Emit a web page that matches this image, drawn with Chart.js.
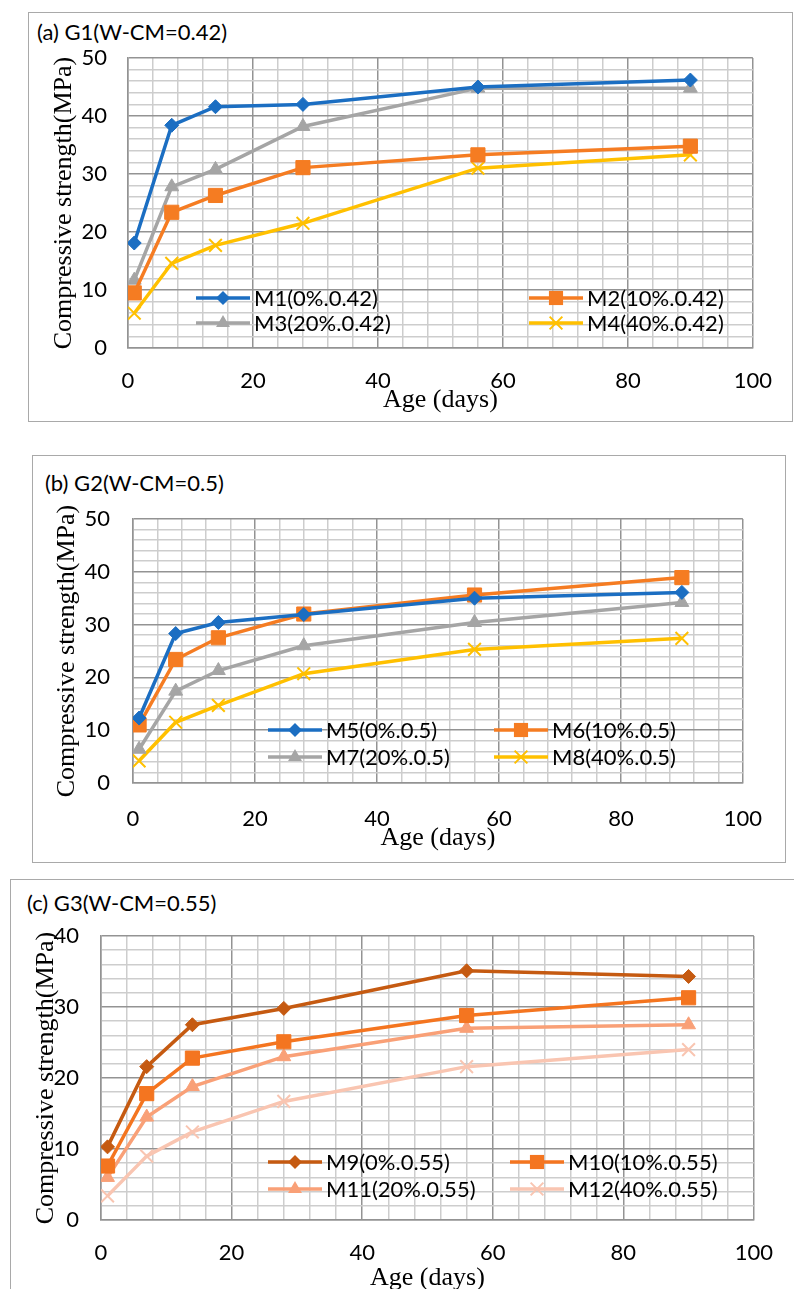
<!DOCTYPE html>
<html>
<head>
<meta charset="utf-8">
<script src="https://cdn.jsdelivr.net/npm/chart.js"></script>
<style>
  html, body { margin: 0; padding: 0; background: #fff; overflow: hidden; width: 794px; height: 1289px; }
  .frame { position: absolute; border: 1.5px solid #a9a9a9; box-sizing: border-box; }
  canvas { position: absolute; }
  .ttl { position: absolute; font-family: Lato, sans-serif; font-size: 22px; line-height: 24px; color: #000; white-space: nowrap; }
</style>
</head>
<body>
<div class="frame" style="left:28px;top:12px;width:765px;height:410px"></div>
<div class="frame" style="left:32px;top:455px;width:754px;height:408px"></div>
<div class="frame" style="left:10px;top:879px;width:800px;height:500px"></div>

<div class="ttl" style="left:37px;top:20px">(a) G1(W-CM=0.42)</div>
<div class="ttl" style="left:45px;top:471px">(b) G2(W-CM=0.5)</div>
<div class="ttl" style="left:27px;top:891px">(c) G3(W-CM=0.55)</div>

<canvas id="chartA" width="764" height="409" style="left:28px;top:12px"></canvas>
<canvas id="chartB" width="753" height="407" style="left:32px;top:455px"></canvas>
<canvas id="chartC" width="783" height="420" style="left:10px;top:879px"></canvas>

<script>
// Data
const days = [1, 7, 14, 28, 56, 90];

const g1Labels = ["M1(0%.0.42)", "M2(10%.0.42)", "M3(20%.0.42)", "M4(40%.0.42)"];
const m1 = [18.1, 38.4, 41.6, 42.0, 45.0, 46.2];
const m2 = [9.5, 23.4, 26.3, 31.1, 33.3, 34.8];
const m3 = [11.7, 27.8, 30.8, 38.2, 44.8, 44.8];
const m4 = [6.0, 14.6, 17.7, 21.5, 31.0, 33.3];

const g2Labels = ["M5(0%.0.5)", "M6(10%.0.5)", "M7(20%.0.5)", "M8(40%.0.5)"];
const m5 = [12.3, 28.3, 30.4, 31.9, 35.0, 36.1];
const m6 = [11.0, 23.4, 27.5, 32.0, 35.6, 38.9];
const m7 = [6.4, 17.4, 21.3, 26.0, 30.4, 34.2];
const m8 = [4.2, 11.5, 14.7, 20.7, 25.3, 27.4];

const g3Labels = ["M9(0%.0.55)", "M10(10%.0.55)", "M11(20%.0.55)", "M12(40%.0.55)"];
const m9 = [10.3, 21.6, 27.5, 29.8, 35.1, 34.3];
const m10 = [7.6, 17.8, 22.8, 25.1, 28.8, 31.3];
const m11 = [6.0, 14.5, 18.8, 23.0, 27.0, 27.5];
const m12 = [3.4, 9.0, 12.4, 16.7, 21.6, 24.0];

// axis ranges / tick steps
const xMax = 100, xMajor = 20, xMinor = 4;
const yMaxG1 = 50, yMaxG2 = 50, yMaxG3 = 40, yMajor = 10, yMinor = 2;

// Styles
const majorGrid = "#939393";
const minorGrid = "#cdcdcd";
const tickFont = { family: "Lato", size: 22 };
const axisFont = { family: "Liberation Serif", size: 26 };
const markers = [
  { shape: "rectRot", r: 7, bw: 1 },
  { shape: "rect", r: 10, bw: 1 },
  { shape: "triangle", r: 8, bw: 1 },
  { shape: "crossRot", r: 9, bw: 2 },
];

// small marker painter for the legend
function drawMarker(ctx, shape, x, y, r) {
  ctx.beginPath();
  if (shape === "rectRot") {
    ctx.moveTo(x, y - r); ctx.lineTo(x + r, y); ctx.lineTo(x, y + r); ctx.lineTo(x - r, y);
    ctx.closePath(); ctx.fill();
  } else if (shape === "rect") {
    const s = r * Math.SQRT1_2;
    ctx.rect(x - s, y - s, 2 * s, 2 * s); ctx.fill();
  } else if (shape === "triangle") {
    ctx.moveTo(x, y - r);
    ctx.lineTo(x + r * 0.866, y + r * 0.5);
    ctx.lineTo(x - r * 0.866, y + r * 0.5);
    ctx.closePath(); ctx.fill();
  } else {
    const s = r * Math.SQRT1_2;
    ctx.lineWidth = 2;
    ctx.moveTo(x - s, y - s); ctx.lineTo(x + s, y + s);
    ctx.moveTo(x + s, y - s); ctx.lineTo(x - s, y + s);
    ctx.stroke();
  }
}

// legend drawn inside the plot, two columns
const insideLegend = {
  id: "insideLegend",
  afterDraw(chart, args, opts) {
    const ctx = chart.ctx;
    chart.data.datasets.forEach((ds, i) => {
      const x = opts.cols[i % 2];
      const y = opts.rows[Math.floor(i / 2)];
      ctx.save();
      ctx.strokeStyle = ds.borderColor;
      ctx.fillStyle = ds.backgroundColor;
      ctx.lineWidth = ds.borderWidth;
      ctx.beginPath();
      ctx.moveTo(x, y);
      ctx.lineTo(x + opts.sample, y);
      ctx.stroke();
      drawMarker(ctx, ds.pointStyle, x + opts.sample / 2, y, ds.pointRadius);
      ctx.fillStyle = "#000";
      ctx.font = "22px Lato";
      ctx.textBaseline = "middle";
      ctx.fillText(ds.label, x + opts.sample + opts.gap, y + 1);
      ctx.restore();
    });
  },
};

function makeChart(id, labels, series, colors, yMax, box, leg) {
  const datasets = series.map((vals, i) => ({
    label: labels[i],
    data: days.map((d, j) => ({ x: d, y: vals[j] })),
    borderColor: colors[i],
    backgroundColor: colors[i],
    borderWidth: 3.5,
    pointStyle: markers[i].shape,
    pointRadius: markers[i].r,
    pointBorderWidth: markers[i].bw,
    tension: 0,
  }));

  return new Chart(document.getElementById(id), {
    type: "line",
    data: { datasets },
    options: {
      responsive: false,
      animation: false,
      devicePixelRatio: 1,
      events: [],
      layout: { padding: { left: box.pl, top: box.pt, right: box.pr, bottom: 0 } },
      plugins: {
        legend: { display: false },
        tooltip: { enabled: false },
        insideLegend: leg,
      },
      scales: {
        x: {
          type: "linear",
          min: 0,
          max: xMax,
          ticks: {
            stepSize: xMinor,
            autoSkip: false,
            maxRotation: 0,
            padding: box.xp,
            color: "#000",
            font: tickFont,
            callback: (v) => (v % xMajor === 0 ? v : ""),
          },
          grid: {
            drawTicks: false,
            lineWidth: 1.5,
            color: (c) => (c.tick && c.tick.value % xMajor === 0 ? majorGrid : minorGrid),
          },
          border: { color: majorGrid, width: 1.5 },
          title: {
            display: true,
            text: "Age (days)",
            color: "#000",
            font: axisFont,
            padding: { top: 0, bottom: box.xtb },
          },
          afterFit: (s) => { s.height = box.xh; },
        },
        y: {
          min: 0,
          max: yMax,
          ticks: {
            stepSize: yMinor,
            autoSkip: false,
            padding: box.yp,
            color: "#000",
            font: tickFont,
            callback: (v) => (v % yMajor === 0 ? v : ""),
          },
          grid: {
            drawTicks: false,
            lineWidth: 1.5,
            color: (c) => (c.tick && c.tick.value % yMajor === 0 ? majorGrid : minorGrid),
          },
          border: { color: majorGrid, width: 1.5 },
          title: {
            display: true,
            text: "Compressive strength(MPa)",
            color: "#000",
            font: axisFont,
            padding: { top: box.ytp, bottom: 0 },
          },
          afterFit: (s) => { s.width = box.yw; },
        },
      },
    },
    plugins: [insideLegend],
  });
}

makeChart("chartA", g1Labels, [m1, m2, m3, m4],
  ["#1b6ec2", "#f57c22", "#a5a5a5", "#ffc000"], yMaxG1,
  { pl: 20, pt: 46, pr: 34, yw: 80, xh: 73, xp: 20, yp: 21, xtb: 5, ytp: 1 },
  { cols: [168, 501], rows: [286, 311], sample: 54, gap: 4 });

makeChart("chartB", g2Labels, [m5, m6, m7, m8],
  ["#1b6ec2", "#f57c22", "#a5a5a5", "#ffc000"], yMaxG2,
  { pl: 20, pt: 64, pr: 36, yw: 81, xh: 79, xp: 23, yp: 23, xtb: 8, ytp: 0 },
  { cols: [236, 462], rows: [275, 302], sample: 54, gap: 4 });

makeChart("chartC", g3Labels, [m9, m10, m11, m12],
  ["#c55a11", "#f47520", "#f9a077", "#f9c5b1"], yMaxG3,
  { pl: 21, pt: 57, pr: 19, yw: 70, xh: 79, xp: 20, yp: 22, xtb: 5, ytp: 0 },
  { cols: [258, 500], rows: [283, 310], sample: 54, gap: 4 });
</script>
</body>
</html>
